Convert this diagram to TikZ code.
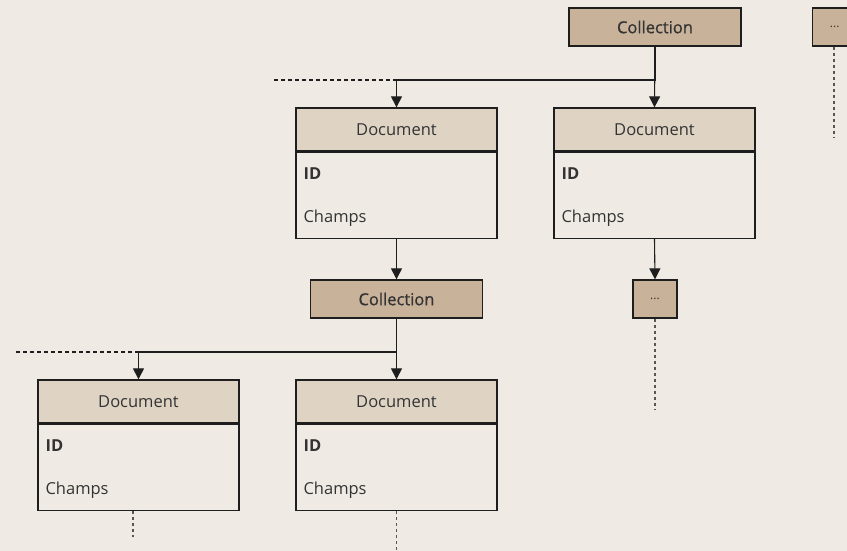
\documentclass[tikz,border=0pt]{standalone}
\usepackage{fontspec}
\setmainfont{Open Sans}
\newfontfamily\semibold[FakeBold=0.8]{Open Sans}
\usetikzlibrary{arrows.meta}
\definecolor{bgcol}{HTML}{EFEBE4}
\definecolor{headcol}{HTML}{DFD4C4}
\definecolor{collcol}{HTML}{C9B29A}
\definecolor{linecol}{HTML}{1E1E1E}
\definecolor{txtcol}{HTML}{333333}
\tikzset{
  box/.style={draw=linecol, line width=1.3pt, inner sep=0pt, text=txtcol, font=\fontsize{16.5}{18}\selectfont},
  coll/.style={box, fill=collcol, minimum width=172pt, minimum height=38pt, font=\semibold\fontsize{16.5}{18}\selectfont},
  more/.style={box, fill=collcol, minimum width=44pt, minimum height=38pt, font=\fontsize{12}{14}\selectfont},
  head/.style={box, fill=headcol, minimum width=201pt, minimum height=43pt},
  body/.style={box, fill=bgcol, minimum width=201pt, minimum height=86pt},
  field/.style={anchor=west, text=txtcol, font=\fontsize{16.5}{18}\selectfont, inner sep=0pt},
  link/.style={draw=linecol, line width=1.1pt},
  arr/.style={link, -{Triangle[length=11pt,width=11pt]}},
  dotline/.style={draw=linecol!75, line width=1.4pt, dash pattern=on 3pt off 3pt},
}
% one document record: header plus ID / Champs fields
\newcommand{\docrec}[3]{%
  \node[head] (#1h) at (#2,-#3-21.5) {Document};
  \node[body, anchor=north] (#1b) at (#1h.south) {};
  \node[field] (#1id) at ([xshift=8pt,yshift=-22pt]#1b.north west) {\bfseries ID};
  \node[field] (#1ch) at ([xshift=8pt,yshift=-66.5pt]#1b.north west) {Champs};
}
\begin{document}
\begin{tikzpicture}[x=1pt,y=1pt]
\fill[bgcol] (0,0) rectangle (847,-551);
\useasboundingbox (0,0) rectangle (847,-551);

% top level
\node[coll] (c1) at (655,-27) {Collection};
\node[more, anchor=west] (m1) at (812,-27) {...};
\coordinate (m1end) at (834,-137);
\draw[dotline] (m1.south -| m1end) -- (m1end);

\docrec{d1}{396.5}{108}
\docrec{d2}{654.5}{108}

\coordinate (j1) at (655,-80);
\coordinate (j1l) at (396.5,-80);
\coordinate (j1end) at (272,-80);
\draw[link] (c1.south) -- (j1) -- (j1l);
\draw[arr] (c1.south) -- (d2h.north);
\draw[arr] (j1l) -- (d1h.north);
\draw[link, dash pattern=on 4pt off 3pt] (j1l) -- (j1end);

% second level
\node[coll] (c2) at (396.5,-299) {Collection};
\draw[arr] (d1b.south) -- (c2.north);

\node[more] (m2) at (655,-299) {...};
\draw[arr] (d2b.south) -- (m2.north);
\coordinate (m2end) at (655,-410);
\draw[dotline] (m2.south) -- (m2end);

\docrec{d3}{138.5}{380}
\docrec{d4}{396.5}{380}

\coordinate (j2) at (396.5,-352);
\coordinate (j2l) at (138.5,-352);
\coordinate (j2end) at (13,-352);
\draw[arr] (c2.south) -- (d4h.north);
\draw[link] (j2) -- (j2l);
\draw[arr] (j2l) -- (d3h.north);
\draw[link, dash pattern=on 4pt off 3pt] (j2l) -- (j2end);

\coordinate (d3end) at (133,-537);
\draw[dotline] (d3b.south -| d3end) -- (d3end);
\coordinate (d4end) at (396.5,-551);
\draw[dotline] (d4b.south) -- (d4end);
\end{tikzpicture}
\end{document}
